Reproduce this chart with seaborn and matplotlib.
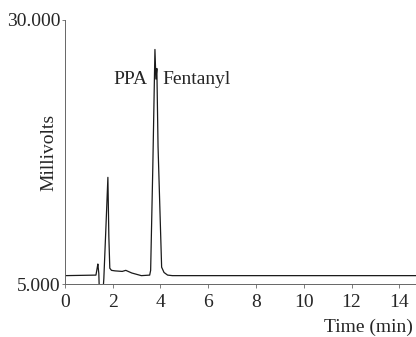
import matplotlib
matplotlib.use("Agg")
import matplotlib.pyplot as plt
import seaborn as sns
import pandas as pd

# ----------------------------------------------------------
# DATA
# ----------------------------------------------------------
time_min = [0.0, 1.30, 1.35, 1.38, 1.42, 1.44, 1.50, 1.60, 1.63, 1.72,
            1.80, 1.84, 1.88, 1.95, 2.10, 2.40, 2.55, 2.80, 3.20, 3.55,
            3.59, 3.68, 3.77, 3.81, 3.85, 3.90, 4.05, 4.15, 4.30, 4.50,
            14.7]
millivolts = [5.8, 5.85, 6.5, 6.9, 6.0, 4.5, 4.5, 4.5, 5.5, 10.5,
              15.1, 9.5, 6.5, 6.3, 6.25, 6.2, 6.3, 6.05, 5.8, 5.85,
              6.3, 16.0, 27.2, 24.4, 25.4, 18.0, 6.6, 6.1, 5.85, 5.8,
              5.8]

x_ticks = [0, 2, 4, 6, 8, 10, 12, 14]
y_ticks = [5, 30]
y_tick_labels = ["5.000", "30.000"]

df = pd.DataFrame({"time": time_min, "mv": millivolts})

# ----------------------------------------------------------
# PLOT
# ----------------------------------------------------------
sns.set_theme(style="white")
plt.rcParams["font.family"] = ["Liberation Serif", "DejaVu Serif"]

fig = plt.figure(figsize=(4.16, 3.37), dpi=100)
ax = fig.add_axes([0.156, 0.157, 0.844, 0.784])

sns.lineplot(data=df, x="time", y="mv", ax=ax, estimator=None, sort=False,
             color="#1a1a1a", linewidth=0.9)

ax.set_xlim(0, 14.7)
ax.set_ylim(5, 30)
ax.set_xticks(x_ticks)
ax.set_yticks(y_ticks)
ax.set_yticklabels(y_tick_labels)

for side in ["top", "right"]:
    ax.spines[side].set_visible(False)
for side in ["left", "bottom"]:
    ax.spines[side].set_color("#666666")
    ax.spines[side].set_linewidth(0.7)

ax.tick_params(axis="x", length=3, width=0.6, pad=4, labelsize=14,
               color="#666666", bottom=True)
ax.tick_params(axis="y", length=2, width=0.6, pad=1, labelsize=14,
               color="#666666", left=True)

ax.set_ylabel("Millivolts", fontsize=14)
ax.yaxis.set_label_coords(-0.022, 0.5)
ax.set_xlabel("Time (min)", fontsize=14, ha="right")
ax.xaxis.set_label_coords(0.991, -0.13)

ax.text(3.45, 24.4, "PPA", fontsize=14, ha="right", va="center")
ax.text(4.08, 24.4, "Fentanyl", fontsize=14, ha="left", va="center")

fig.savefig("out.png", dpi=100)
